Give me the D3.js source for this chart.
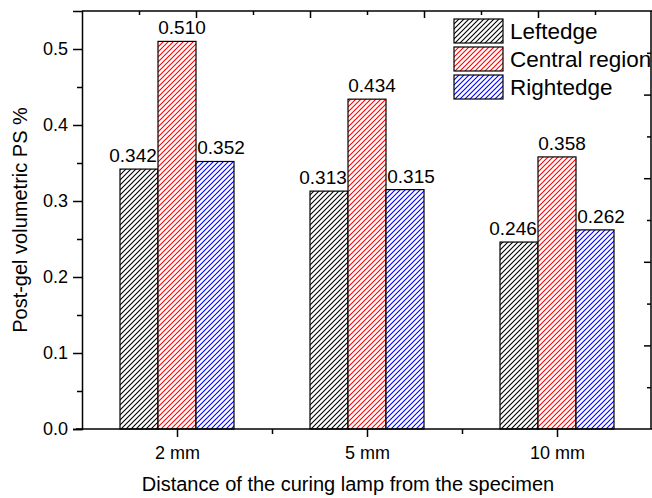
<!DOCTYPE html>
<html>
<head>
<meta charset="utf-8">
<script src="https://cdn.jsdelivr.net/npm/d3@7"></script>
<style>
  body { margin: 0; background: #fff; }
  svg { display: block; font-family: "Liberation Sans", Arial, sans-serif; }
  .axis path, .axis line { stroke: #000; stroke-width: 1.5; }
  .axis text { font-family: "Liberation Sans", Arial, sans-serif; font-size: 18px; fill: #000; }
</style>
</head>
<body>
<div id="container"></div>
<script>
const categories = ['2 mm', '5 mm', '10 mm'];
const seriesNames = ['Leftedge', 'Central region', 'Rightedge'];
const leftEdge = [0.342, 0.313, 0.246];
const centralRegion = [0.510, 0.434, 0.358];
const rightEdge = [0.352, 0.315, 0.262];
const yTicks = [0.0, 0.1, 0.2, 0.3, 0.4, 0.5];
const seriesColors = ['#000000', '#ff0000', '#0000ff'];

const seriesValues = [leftEdge, centralRegion, rightEdge];
const labelShift = [-6, 5, 6];
const width = 652, height = 498;
const plotLeft = 82, plotRight = 651, plotTop = 11, plotBottom = 429;

const svg = d3.select('#container').append('svg')
  .attr('width', width)
  .attr('height', height);

// hatch patterns
const defs = svg.append('defs');
seriesColors.forEach((c, i) => {
  const p = defs.append('pattern')
    .attr('id', 'hatch' + i)
    .attr('patternUnits', 'userSpaceOnUse')
    .attr('width', 5)
    .attr('height', 5);
  p.append('rect').attr('width', 5).attr('height', 5).attr('fill', '#fff');
  p.append('path')
    .attr('d', 'M-1,1 l2,-2 M0,5 l5,-5 M4,6 l2,-2')
    .attr('stroke', c)
    .attr('stroke-width', 1.1);
});

const x0 = d3.scaleBand()
  .domain(categories)
  .range([plotLeft, plotRight + 1])
  .paddingInner(0.4)
  .paddingOuter(0.2);

const x1 = d3.scaleBand()
  .domain(seriesNames)
  .range([0, x0.bandwidth()]);

const y = d3.scaleLinear()
  .domain([0, 0.55])
  .range([plotBottom, plotTop]);

// bars
const groups = svg.append('g')
  .selectAll('g')
  .data(seriesNames)
  .join('g');

groups.each(function(name, si) {
  const g = d3.select(this);
  g.selectAll('rect')
    .data(categories)
    .join('rect')
      .attr('x', c => x0(c) + x1(name))
      .attr('y', (c, ci) => y(seriesValues[si][ci]))
      .attr('width', x1.bandwidth())
      .attr('height', (c, ci) => y(0) - y(seriesValues[si][ci]))
      .attr('fill', 'url(#hatch' + si + ')')
      .attr('stroke', '#000')
      .attr('stroke-width', 1.2);
  g.selectAll('text')
    .data(categories)
    .join('text')
      .attr('x', c => x0(c) + x1(name) + x1.bandwidth() / 2 + labelShift[si])
      .attr('y', (c, ci) => y(seriesValues[si][ci]) - 7)
      .attr('text-anchor', 'middle')
      .style('font-size', '19px')
      .text((c, ci) => seriesValues[si][ci].toFixed(3));
});

// left axis
svg.append('g')
  .attr('class', 'axis')
  .attr('transform', `translate(${plotLeft},0)`)
  .call(d3.axisLeft(y).tickValues(yTicks).tickFormat(d3.format('.1f')).tickSize(9).tickPadding(5));

svg.append('g')
  .attr('class', 'axis')
  .attr('transform', `translate(${plotLeft},0)`)
  .call(d3.axisLeft(y).tickValues(d3.range(0.05, 0.55, 0.1)).tickFormat('').tickSize(5))
  .select('.domain').remove();

// bottom axis
const xLin = d3.scaleLinear().domain([0.5, 3.5]).range([plotLeft, plotRight + 1]);

svg.append('g')
  .attr('class', 'axis')
  .attr('transform', `translate(0,${plotBottom})`)
  .call(d3.axisBottom(xLin).tickValues([1, 2, 3]).tickFormat((d, i) => categories[i]).tickSize(8).tickPadding(9))
  .call(g => g.select('.domain').attr('d', `M${plotLeft - 6},0H${plotRight + 1}`));

svg.append('g')
  .attr('class', 'axis')
  .attr('transform', `translate(0,${plotBottom})`)
  .call(d3.axisBottom(xLin).tickValues([1.5, 2.5]).tickFormat('').tickSize(5))
  .select('.domain').remove();

// top and right frame with inward ticks
const topScale = d3.scaleLinear().domain([0, 10]).range([plotLeft, plotRight + 1]);
const rightScale = d3.scaleLinear().domain([0, 10]).range([plotBottom, plotTop]);

svg.append('g')
  .attr('class', 'axis')
  .attr('transform', `translate(0,${plotTop})`)
  .call(d3.axisTop(topScale).tickValues([2, 4, 6, 8]).tickFormat('').tickSize(-7))
  .call(g => g.select('.domain').attr('d', `M${plotLeft},0H${plotRight + 1}`));
svg.append('g')
  .attr('class', 'axis')
  .attr('transform', `translate(0,${plotTop})`)
  .call(d3.axisTop(topScale).tickValues([1, 3, 5, 7, 9]).tickFormat('').tickSize(-4))
  .select('.domain').remove();

svg.append('g')
  .attr('class', 'axis')
  .attr('transform', `translate(${plotRight},0)`)
  .call(d3.axisRight(rightScale).tickValues([2, 4, 6, 8]).tickFormat('').tickSize(-7))
  .call(g => g.select('.domain').attr('d', `M0,${plotTop}V${plotBottom}`));
svg.append('g')
  .attr('class', 'axis')
  .attr('transform', `translate(${plotRight},0)`)
  .call(d3.axisRight(rightScale).tickValues([1, 3, 5, 7, 9]).tickFormat('').tickSize(-4))
  .select('.domain').remove();

// axis titles
svg.append('text')
  .attr('x', 348)
  .attr('y', 491)
  .attr('text-anchor', 'middle')
  .style('font-size', '20px')
  .text('Distance of the curing lamp from the specimen');

svg.append('text')
  .attr('transform', `translate(27,${(plotTop + plotBottom) / 2}) rotate(-90)`)
  .attr('text-anchor', 'middle')
  .style('font-size', '20px')
  .text('Post-gel volumetric PS %');

// legend
const legend = svg.append('g').attr('transform', 'translate(454,19)');
const items = legend.selectAll('g')
  .data(seriesNames)
  .join('g')
    .attr('transform', (d, i) => `translate(0,${i * 28})`);
items.append('rect')
  .attr('width', 49)
  .attr('height', 24)
  .attr('fill', (d, i) => 'url(#hatch' + i + ')')
  .attr('stroke', '#000')
  .attr('stroke-width', 1.2);
items.append('text')
  .attr('x', 56)
  .attr('y', 19.5)
  .style('font-size', '22.5px')
  .text(d => d);
</script>
</body>
</html>
